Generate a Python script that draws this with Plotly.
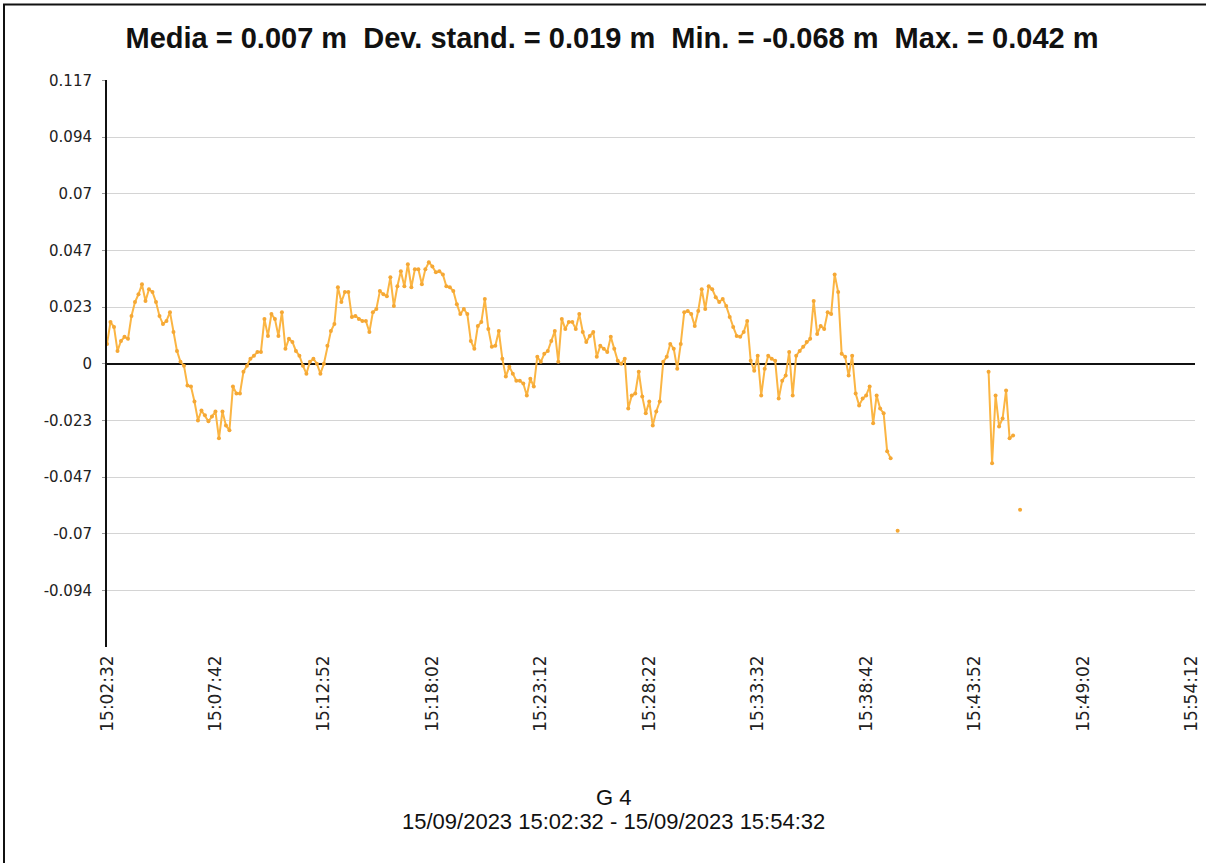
import plotly.graph_objects as go
import pandas as pd

# ---------------- data ----------------
START = "2023-09-15 15:02:32"
END = "2023-09-15 15:54:32"
STEP = "10s"

# continuous run starting at START (one value every 10 s), metres
seg1_values = [
    0.0082, 0.0172, 0.0152, 0.0053, 0.0094, 0.0111, 0.0103, 0.0197, 0.0255, 0.0287,
    0.0328, 0.0259, 0.0308, 0.0296, 0.0255, 0.0197, 0.0164, 0.0177, 0.0213, 0.0131,
    0.0053, 0.0008, -0.0008, -0.0090, -0.0094, -0.0156, -0.0234, -0.0193, -0.0213, -0.0238,
    -0.0218, -0.0197, -0.0308, -0.0197, -0.0255, -0.0275, -0.0094, -0.0123, -0.0123, -0.0033,
    -0.0008, 0.0021, 0.0033, 0.0049, 0.0049, 0.0185, 0.0115,
    0.0205, 0.0185, 0.0115, 0.0213, 0.0062, 0.0103, 0.0090, 0.0053, 0.0033, -0.0008,
    -0.0041, 0.0008, 0.0021, 0.0000, -0.0041, 0.0000, 0.0074, 0.0135, 0.0164, 0.0316,
    0.0255, 0.0296, 0.0296, 0.0193, 0.0197, 0.0185, 0.0177, 0.0177, 0.0131, 0.0213,
    0.0226, 0.0300, 0.0287, 0.0279, 0.0357, 0.0238, 0.0320, 0.0382, 0.0320, 0.0411,
    0.0316, 0.0390, 0.0390, 0.0328, 0.0390, 0.0419, 0.0402, 0.0378, 0.0382, 0.0369,
    0.0320, 0.0316, 0.0300, 0.0246, 0.0205, 0.0226, 0.0205, 0.0094, 0.0062, 0.0156,
    0.0172, 0.0267, 0.0144, 0.0070, 0.0074, 0.0135, 0.0021, -0.0053, -0.0012, -0.0041,
    -0.0070, -0.0070, -0.0082, -0.0131, -0.0062, -0.0094, 0.0029, 0.0008, 0.0041, 0.0053,
    0.0094, 0.0135, 0.0008, 0.0185, 0.0144, 0.0172, 0.0172, 0.0144, 0.0205, 0.0131,
    0.0090, 0.0115,
    0.0131, 0.0029, 0.0074, 0.0062, 0.0049, 0.0111, 0.0062, 0.0012, 0.0000, 0.0021,
    -0.0185, -0.0131, -0.0123, -0.0033, -0.0135, -0.0205, -0.0156, -0.0255, -0.0197, -0.0156,
    0.0008, 0.0029, 0.0082, 0.0062, -0.0021, 0.0082, 0.0213, 0.0218, 0.0205, 0.0156,
    0.0218, 0.0308, 0.0226, 0.0320, 0.0308, 0.0275, 0.0255, 0.0267, 0.0238, 0.0193,
    0.0152, 0.0115, 0.0111, 0.0131, 0.0177,
    0.0012, -0.0029, 0.0033, -0.0131, -0.0021, 0.0033, 0.0021, 0.0012, -0.0144, -0.0070,
    -0.0049, 0.0049, -0.0131, 0.0033, 0.0053, 0.0070, 0.0090, 0.0103, 0.0259, 0.0123,
    0.0156, 0.0144, 0.0213, 0.0205, 0.0369, 0.0296, 0.0041, 0.0029, -0.0049, 0.0033,
    -0.0123, -0.0172, -0.0144, -0.0131, -0.0094, -0.0246, -0.0131, -0.0185, -0.0205, -0.0361,
    -0.0390,
]

seg2_start = "2023-09-15 15:44:32"
seg2_values = [-0.0033, -0.0411, -0.0131, -0.0259, -0.0226, -0.0111, -0.0308, -0.0296]

single_times = ["2023-09-15 15:40:12", "2023-09-15 15:46:02"]
single_values = [-0.0690, -0.0603]

y_tickvals = [-0.0936, -0.0702, -0.0468, -0.0234, 0.0, 0.0234, 0.0468, 0.0702, 0.0936, 0.117]
y_ticktext = ["-0.094", "-0.07", "-0.047", "-0.023", "0", "0.023", "0.047", "0.07", "0.094", "0.117"]

title_text = ("Media = 0.007 m\u00a0 Dev. stand. = 0.019 m\u00a0 "
              "Min. = -0.068 m\u00a0 Max. = 0.042 m")
station = "G 4"
period = "15/09/2023 15:02:32 - 15/09/2023 15:54:32"

# ---------------- build series ----------------
times = pd.date_range(START, END, freq=STEP)
vals = [None] * len(times)
for i, v in enumerate(seg1_values):
    vals[i] = v
i2 = times.get_loc(pd.Timestamp(seg2_start))
for k, v in enumerate(seg2_values):
    vals[i2 + k] = v
for t, v in zip(single_times, single_values):
    vals[times.get_loc(pd.Timestamp(t))] = v

# ---------------- figure ----------------
W, H = 1206, 863
ML, MR, MT, MB = 107, 11, 80, 216
PW, PH = W - ML - MR, H - MT - MB

def px_x(p):
    return (p - ML) / PW

def px_y(p):
    return (H - MB - p) / PH

fig = go.Figure()
fig.add_trace(go.Scatter(
    x=times, y=vals, mode="lines+markers", connectgaps=False,
    line=dict(color="#FBB543", width=2),
    marker=dict(color="#F5A835", size=4),
    hoverinfo="x+y", showlegend=False,
))

fig.update_layout(
    width=W, height=H,
    margin=dict(l=ML, r=MR, t=MT, b=MB, autoexpand=False),
    paper_bgcolor="white", plot_bgcolor="white",
    title=dict(text=title_text, x=612 / W, xanchor="center", xref="container",
               y=1 - 38 / H, yanchor="middle", yref="container",
               font=dict(family="Liberation Sans", size=29, color="#111", weight="bold")),
    font=dict(family="DejaVu Sans", color="#222"),
    xaxis=dict(
        type="date",
        range=["2023-09-15 15:02:32", "2023-09-15 15:54:22"],
        tick0="2023-09-15 15:02:32", dtick=310000,
        tickformat="%H:%M:%S", tickangle=-90,
        showgrid=False, zeroline=False, showline=False,
        ticks="", tickfont=dict(family="DejaVu Sans", size=17, color="#222"),
        ticklabelstandoff=4,
    ),
    yaxis=dict(
        range=[-0.117, 0.1172],
        tickmode="array", tickvals=y_tickvals, ticktext=y_ticktext,
        showgrid=True, gridcolor="#D4D4D4", gridwidth=1,
        zeroline=True, zerolinecolor="#111", zerolinewidth=2,
        showline=True, linecolor="#111", linewidth=2,
        ticks="outside", ticklen=3, tickcolor="#999",
        ticklabelstandoff=7,
        tickfont=dict(family="DejaVu Sans", size=15, color="#222"),
    ),
)

fig.add_annotation(text=station, xref="paper", yref="paper",
                   x=px_x(613), y=px_y(797), xanchor="center", yanchor="middle",
                   showarrow=False, font=dict(family="Liberation Sans", size=22, color="#111"))
fig.add_annotation(text=period, xref="paper", yref="paper",
                   x=px_x(613), y=px_y(821), xanchor="center", yanchor="middle",
                   showarrow=False, font=dict(family="Liberation Sans", size=22, color="#111"))

# outer frame (left and top edges visible)
fig.add_shape(type="rect", xref="paper", yref="paper",
              x0=px_x(4), y0=px_y(900), x1=px_x(1300), y1=px_y(4.5),
              line=dict(color="#111", width=2), fillcolor="rgba(0,0,0,0)", layer="above")

fig.write_html("out.html",
               config={"displayModeBar": False},
               post_script="document.body.style.margin='0';document.body.style.padding='0';"
                           "document.documentElement.style.overflow='hidden';")
